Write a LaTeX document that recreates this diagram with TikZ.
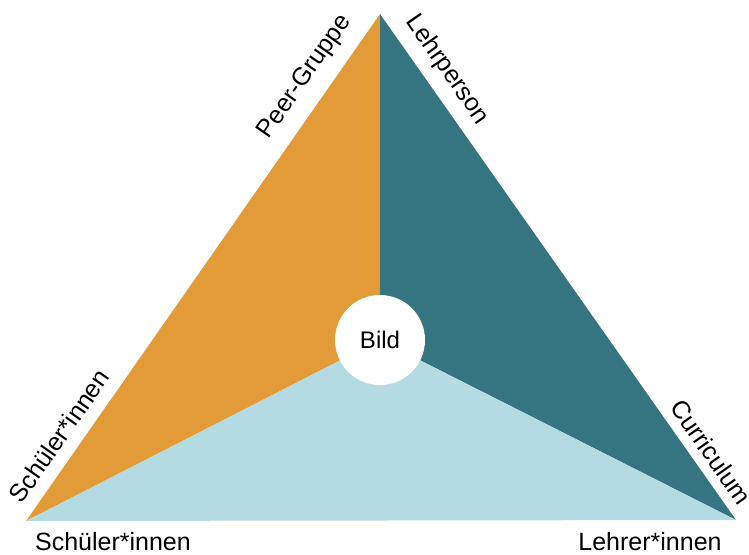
\documentclass[tikz,border=0pt]{standalone}
\usepackage{fontspec}
\setmainfont{Liberation Sans}
\definecolor{orangeC}{HTML}{E39B37}
\definecolor{tealC}{HTML}{357581}
\definecolor{lightC}{HTML}{B5DBE2}
\begin{document}
\begin{tikzpicture}[x=1pt,y=-1pt,
  lbl/.style={font=\fontsize{25}{29}\selectfont, inner sep=0pt, text=black},
  hub/.style={circle, fill=white, minimum size=90pt, inner sep=0pt, font=\fontsize{24}{28}\selectfont}]
\useasboundingbox (0,0) rectangle (749,554);
\coordinate (top) at (380,14);
\coordinate (bl) at (26,521);
\coordinate (br) at (736,520);
\coordinate (c) at (380,340);
\fill[orangeC] (top) -- (bl) -- (c) -- cycle;
\fill[tealC] (top) -- (c) -- (br) -- cycle;
\fill[lightC] (bl) -- (br) -- (c) -- cycle;
\node[hub] (bild) at (c) {Bild};
\node[lbl, rotate=55] (peer) at (305,77) {Peer-Gruppe};
\node[lbl, rotate=-55] (lehrp) at (447,70) {Lehrperson};
\node[lbl, rotate=55] (schl) at (59,436) {Schüler*innen};
\node[lbl, rotate=-55] (curr) at (711,452) {Curriculum};
\node[lbl] (schb) at (113,542) {Schüler*innen};
\node[lbl] (lehrb) at (650,542) {Lehrer*innen};
\end{tikzpicture}
\end{document}
